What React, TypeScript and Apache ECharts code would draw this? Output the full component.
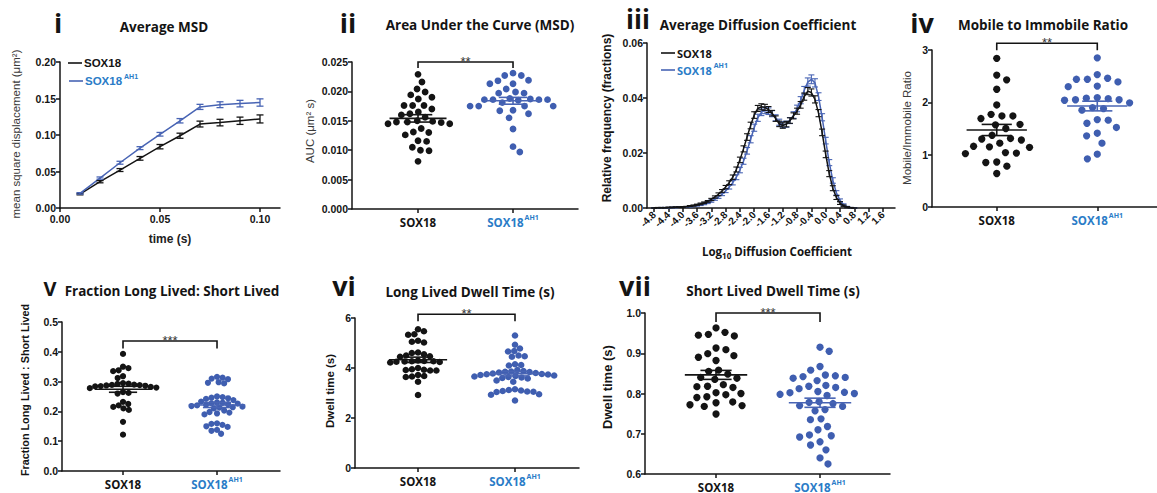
import React, { useEffect, useRef } from "react";
import * as echarts from "echarts";

const INK = "#141414";
const GREY_TXT = "#3a3a3a";
const BLUE_DOT = "#3f5eb0";
const BLUE_LINE = "#4864b4";
const BLUE_TXT = "#2a7cc7";
const TICK_FONT = "Liberation Sans, Arial, sans-serif";
const HEAD_FONT = "Open Sans, Lato, sans-serif";

// ---------- i: Average MSD ----------
const msdTime = [0.01, 0.02, 0.03, 0.04, 0.05, 0.06, 0.07, 0.08, 0.09, 0.1];
const msdSox18 = [0.019, 0.036, 0.052, 0.068, 0.084, 0.099, 0.115, 0.117, 0.1195, 0.122];
const msdSox18Sem = [0.001, 0.0015, 0.002, 0.0025, 0.003, 0.0035, 0.004, 0.0045, 0.005, 0.0055];
const msdAh1 = [0.02, 0.041, 0.062, 0.082, 0.101, 0.1195, 0.1385, 0.1415, 0.143, 0.1445];
const msdAh1Sem = [0.001, 0.0015, 0.002, 0.002, 0.0025, 0.003, 0.0035, 0.004, 0.0045, 0.005];

// ---------- ii: AUC ----------
const aucSox18 = [0.0229, 0.0216, 0.0204, 0.0199, 0.0194, 0.019, 0.0187, 0.0176, 0.0176, 0.0176, 0.017, 0.0165, 0.0162, 0.016, 0.0156, 0.015, 0.0149, 0.0148, 0.0148, 0.0147, 0.0145, 0.0145, 0.0137, 0.0131, 0.013, 0.0126, 0.0116, 0.0115, 0.0105, 0.01, 0.0099, 0.0081];
const aucAh1 = [0.0231, 0.0227, 0.0227, 0.0218, 0.0219, 0.0213, 0.0213, 0.0204, 0.0199, 0.0197, 0.0197, 0.0188, 0.0187, 0.0186, 0.0186, 0.0186, 0.0186, 0.0185, 0.0181, 0.0175, 0.0175, 0.0175, 0.0175, 0.0168, 0.0167, 0.0162, 0.0155, 0.0136, 0.0106, 0.0097];

// ---------- iii: Average diffusion coefficient ----------
const diffBins = [
  -4.8, -4.7, -4.6, -4.5, -4.4, -4.3, -4.2, -4.1, -4.0, -3.9,
  -3.8, -3.7, -3.6, -3.5, -3.4, -3.3, -3.2, -3.1, -3.0, -2.9,
  -2.8, -2.7, -2.6, -2.5, -2.4, -2.3, -2.2, -2.1, -2.0, -1.9,
  -1.8, -1.7, -1.6, -1.5, -1.4, -1.3, -1.2, -1.1, -1.0, -0.9,
  -0.8, -0.7, -0.6, -0.5, -0.4, -0.3, -0.2, -0.1, 0.0, 0.1,
  0.2, 0.3, 0.4, 0.5, 0.6, 0.7, 0.8,
];
const diffSox18 = [
  0.0, 0.0001, 0.0001, 0.0001, 0.0002, 0.0002, 0.0003, 0.0003, 0.0004, 0.0005,
  0.0007, 0.0009, 0.0012, 0.0015, 0.0019, 0.0024, 0.0031, 0.004, 0.005, 0.0062,
  0.0076, 0.0092, 0.0112, 0.014, 0.0175, 0.0215, 0.0258, 0.03, 0.0338, 0.0362,
  0.0368, 0.0366, 0.0358, 0.0345, 0.0325, 0.0306, 0.03, 0.0305, 0.0318, 0.0335,
  0.0352, 0.0375, 0.0405, 0.0425, 0.042, 0.0395, 0.0345, 0.0275, 0.0195, 0.0125,
  0.0072, 0.0038, 0.0018, 0.0008, 0.0003, 0.0001, 0.0,
];
const diffSox18Sem = [
  0.0001, 0.0001, 0.0001, 0.0001, 0.0001, 0.0001, 0.0001, 0.0001, 0.0001, 0.0001,
  0.0002, 0.0002, 0.0002, 0.0003, 0.0003, 0.0003, 0.0004, 0.0004, 0.0005, 0.0005,
  0.0006, 0.0007, 0.0008, 0.0009, 0.001, 0.0011, 0.0012, 0.0012, 0.0012, 0.0011,
  0.0011, 0.0011, 0.0011, 0.001, 0.001, 0.001, 0.001, 0.001, 0.001, 0.0011,
  0.0011, 0.0012, 0.0013, 0.0013, 0.0013, 0.0013, 0.0013, 0.0012, 0.0012, 0.0011,
  0.0009, 0.0007, 0.0005, 0.0003, 0.0002, 0.0001, 0.0,
];
const diffAh1 = [
  0.0, 0.0, 0.0001, 0.0001, 0.0001, 0.0002, 0.0002, 0.0003, 0.0003, 0.0004,
  0.0005, 0.0007, 0.0009, 0.0012, 0.0015, 0.0019, 0.0025, 0.0032, 0.004, 0.005,
  0.0062, 0.0076, 0.0092, 0.0112, 0.0138, 0.017, 0.0208, 0.025, 0.0292, 0.0328,
  0.0348, 0.0355, 0.0352, 0.0343, 0.0328, 0.0312, 0.0303, 0.0305, 0.0318, 0.0338,
  0.0362, 0.0392, 0.0428, 0.0458, 0.0468, 0.0455, 0.0405, 0.033, 0.0245, 0.0165,
  0.01, 0.0055, 0.0028, 0.0012, 0.0004, 0.0001, 0.0,
];
const diffAh1Sem = [
  0.0001, 0.0001, 0.0001, 0.0001, 0.0001, 0.0001, 0.0001, 0.0001, 0.0001, 0.0001,
  0.0002, 0.0002, 0.0002, 0.0003, 0.0003, 0.0003, 0.0004, 0.0004, 0.0005, 0.0005,
  0.0006, 0.0007, 0.0008, 0.0009, 0.001, 0.0011, 0.0012, 0.0013, 0.0013, 0.0013,
  0.0012, 0.0012, 0.0012, 0.0011, 0.0011, 0.0011, 0.0011, 0.0011, 0.0011, 0.0012,
  0.0012, 0.0013, 0.0014, 0.0015, 0.0016, 0.0015, 0.0014, 0.0013, 0.0012, 0.0011,
  0.001, 0.0008, 0.0005, 0.0003, 0.0002, 0.0001, 0.0,
];
const diffTicks = [-4.8, -4.4, -4.0, -3.6, -3.2, -2.8, -2.4, -2.0, -1.6, -1.2, -0.8, -0.4, 0.0, 0.4, 0.8, 1.2, 1.6];

// ---------- iv: Mobile / immobile ratio ----------
const ratioSox18 = [2.84, 2.52, 2.43, 2.25, 1.95, 1.77, 1.74, 1.74, 1.69, 1.58, 1.57, 1.5, 1.37, 1.31, 1.3, 1.28, 1.22, 1.16, 1.15, 1.14, 1.04, 1.03, 1.02, 0.86, 0.85, 0.78, 0.64];
const ratioAh1 = [2.85, 2.53, 2.46, 2.44, 2.44, 2.39, 2.31, 2.3, 2.09, 2.08, 2.07, 2.05, 2.05, 2.04, 1.99, 1.9, 1.88, 1.85, 1.67, 1.66, 1.6, 1.52, 1.41, 1.36, 1.22, 1.01, 0.92];

// ---------- v: Fraction long lived : short lived ----------
const fracSox18 = [0.393, 0.35, 0.345, 0.338, 0.335, 0.318, 0.312, 0.295, 0.293, 0.292, 0.29, 0.289, 0.288, 0.287, 0.286, 0.285, 0.284, 0.282, 0.28, 0.278, 0.265, 0.262, 0.26, 0.232, 0.225, 0.22, 0.215, 0.21, 0.205, 0.165, 0.122];
const fracAh1 = [0.316, 0.313, 0.31, 0.308, 0.298, 0.296, 0.294, 0.25, 0.248, 0.246, 0.244, 0.242, 0.238, 0.233, 0.23, 0.229, 0.227, 0.226, 0.224, 0.222, 0.22, 0.218, 0.216, 0.214, 0.213, 0.21, 0.203, 0.198, 0.196, 0.193, 0.19, 0.16, 0.158, 0.155, 0.15, 0.148, 0.138, 0.135, 0.125];

// ---------- vi: Long lived dwell time ----------
const longSox18 = [5.55, 5.47, 5.35, 5.33, 5.09, 5.05, 5.02, 4.62, 4.6, 4.55, 4.5, 4.47, 4.45, 4.3, 4.28, 4.27, 4.27, 4.26, 4.25, 4.24, 4.22, 4.0, 3.95, 3.93, 3.92, 3.9, 3.9, 3.72, 3.68, 3.66, 3.64, 3.45, 2.92];
const longAh1 = [5.3, 4.93, 4.78, 4.68, 4.66, 4.5, 4.47, 4.45, 4.15, 4.12, 4.1, 3.92, 3.88, 3.86, 3.85, 3.84, 3.82, 3.8, 3.78, 3.76, 3.75, 3.74, 3.72, 3.7, 3.68, 3.66, 3.64, 3.62, 3.6, 3.58, 3.5, 3.45, 3.15, 3.12, 3.1, 3.08, 3.06, 3.05, 3.04, 2.95, 2.93, 2.7];

// ---------- vii: Short lived dwell time ----------
const shortSox18 = [0.963, 0.952, 0.947, 0.945, 0.943, 0.913, 0.909, 0.899, 0.894, 0.89, 0.882, 0.858, 0.855, 0.848, 0.84, 0.838, 0.835, 0.822, 0.818, 0.817, 0.815, 0.802, 0.8, 0.797, 0.792, 0.79, 0.779, 0.777, 0.772, 0.77, 0.768, 0.749];
const shortAh1 = [0.915, 0.905, 0.867, 0.858, 0.846, 0.844, 0.842, 0.84, 0.838, 0.832, 0.82, 0.818, 0.815, 0.812, 0.805, 0.803, 0.802, 0.8, 0.798, 0.795, 0.78, 0.778, 0.775, 0.77, 0.768, 0.76, 0.757, 0.737, 0.735, 0.718, 0.71, 0.697, 0.695, 0.692, 0.68, 0.672, 0.66, 0.64, 0.625];

// ---------- helpers ----------
function meanSem(v: number[]) {
  const n = v.length;
  const m = v.reduce((a, b) => a + b, 0) / n;
  const sd = Math.sqrt(v.reduce((a, b) => a + (b - m) * (b - m), 0) / (n - 1));
  return [m, sd / Math.sqrt(n)];
}

// deterministic beeswarm: returns horizontal pixel offsets
function beeswarm(values: number[], pxPerY: number, diam: number): number[] {
  const idx = values.map((_, i) => i).sort((a, b) => values[b] - values[a]);
  const placed: { x: number; y: number }[] = [];
  const offs = new Array(values.length).fill(0);
  let side = 1;
  for (const i of idx) {
    const y = values[i] * pxPerY;
    const near = placed.filter((p) => Math.abs(p.y - y) < diam);
    const cands = [0];
    for (const p of near) {
      const w = Math.sqrt(diam * diam - (p.y - y) * (p.y - y));
      cands.push(p.x + w + 0.01, p.x - w - 0.01);
    }
    const ok = cands.filter((c) => near.every((p) => (p.x - c) * (p.x - c) + (p.y - y) * (p.y - y) >= diam * diam - 0.01));
    ok.sort((a, b) => {
      const d = Math.round(Math.abs(a) * 10) - Math.round(Math.abs(b) * 10);
      if (d !== 0) return d;
      return side > 0 ? b - a : a - b;
    });
    const x = ok[0];
    if (Math.abs(x) > 0.5) side = -side;
    placed.push({ x, y });
    offs[i] = x;
  }
  return offs;
}

const axisLineStyle = { color: INK, width: 1.5 };

function baseAxis(gi: number) {
  return {
    gridIndex: gi,
    type: "value",
    axisLine: { show: true, onZero: false, lineStyle: axisLineStyle },
    axisTick: { show: true, length: 4, lineStyle: axisLineStyle },
    splitLine: { show: false },
    axisLabel: { color: INK, fontFamily: TICK_FONT, fontWeight: "bold", fontSize: 10.5, margin: 4 },
  };
}

const catRich = {
  k: { fontFamily: HEAD_FONT, fontWeight: "bold", fontSize: 11.5, color: INK, lineHeight: 16 },
  b: { fontFamily: HEAD_FONT, fontWeight: "bold", fontSize: 11.5, color: BLUE_TXT, lineHeight: 16 },
  s: { fontFamily: HEAD_FONT, fontWeight: "bold", fontSize: 7, color: BLUE_TXT, lineHeight: 9, verticalAlign: "top", padding: [0, 0, 0, 1] },
};

function errRender(color: string, cap: number, lw: number) {
  return (params: any, api: any) => {
    const x = api.value(0), y = api.value(1), e = api.value(2);
    const t = api.coord([x, y + e]);
    const b = api.coord([x, y - e]);
    const st = { stroke: color, lineWidth: lw };
    return {
      type: "group",
      children: [
        { type: "line", shape: { x1: t[0], y1: t[1], x2: b[0], y2: b[1] }, style: st },
        { type: "line", shape: { x1: t[0] - cap, y1: t[1], x2: t[0] + cap, y2: t[1] }, style: st },
        { type: "line", shape: { x1: b[0] - cap, y1: b[1], x2: b[0] + cap, y2: b[1] }, style: st },
      ],
    };
  };
}

function meanRender(color: string) {
  return (params: any, api: any) => {
    const g = api.value(0), m = api.value(1), s = api.value(2);
    const a = api.coord([g - 0.3, m]);
    const b = api.coord([g + 0.3, m]);
    const t1 = api.coord([g - 0.15, m + s]);
    const t2 = api.coord([g + 0.15, m + s]);
    const b1 = api.coord([g - 0.15, m - s]);
    const b2 = api.coord([g + 0.15, m - s]);
    const cx = (a[0] + b[0]) / 2;
    const st = { stroke: color, lineWidth: 1.6 };
    return {
      type: "group",
      children: [
        { type: "line", shape: { x1: a[0], y1: a[1], x2: b[0], y2: b[1] }, style: st },
        { type: "line", shape: { x1: cx, y1: t1[1], x2: cx, y2: b1[1] }, style: st },
        { type: "line", shape: { x1: t1[0], y1: t1[1], x2: t2[0], y2: t2[1] }, style: st },
        { type: "line", shape: { x1: b1[0], y1: b1[1], x2: b2[0], y2: b2[1] }, style: st },
      ],
    };
  };
}

function bracketRender(stars: string, leg: number) {
  return (params: any, api: any) => {
    const p1 = api.coord([api.value(0), api.value(2)]);
    const p2 = api.coord([api.value(1), api.value(2)]);
    return {
      type: "group",
      children: [
        {
          type: "polyline",
          shape: { points: [[p1[0], p1[1] + leg], [p1[0], p1[1]], [p2[0], p2[1]], [p2[0], p2[1] + leg]] },
          style: { stroke: INK, lineWidth: 1.6, fill: null },
        },
        {
          type: "text",
          x: (p1[0] + p2[0]) / 2,
          y: p1[1] - 1,
          style: { text: stars, align: "center", verticalAlign: "middle", lineHeight: 8, fontFamily: TICK_FONT, fontSize: 13, fill: "#333" },
        },
      ],
    };
  };
}

type Box = { left: number; top: number; width: number; height: number };

function scatterPanel(
  gi: number,
  box: Box,
  xMin: number,
  xMax: number,
  yMin: number,
  yMax: number,
  yInterval: number,
  decimals: number,
  a: number[],
  b: number[],
  diam: number,
  dot: number,
  bracketY: number,
  stars: string,
  leg: number
) {
  const pxX = box.width / (xMax - xMin);
  const pxY = box.height / (yMax - yMin);
  const oa = beeswarm(a, pxY, diam);
  const ob = beeswarm(b, pxY, diam);
  const xAxis = {
    ...baseAxis(gi),
    min: xMin,
    max: xMax,
    axisTick: { show: true, length: 4, lineStyle: axisLineStyle, customValues: [1, 2] },
    axisLabel: {
      customValues: [1, 2],
      margin: 5,
      formatter: (v: number) => (Math.round(v) === 1 ? "{k|SOX18}" : "{b|SOX18}{s|AH1}"),
      rich: catRich,
    },
  };
  const yAxis = {
    ...baseAxis(gi),
    min: yMin,
    max: yMax,
    interval: yInterval,
    axisLabel: { ...baseAxis(gi).axisLabel, formatter: (v: number) => v.toFixed(decimals) },
  };
  const [ma, sa] = meanSem(a);
  const [mb, sb] = meanSem(b);
  const series = [
    {
      type: "scatter", xAxisIndex: gi, yAxisIndex: gi, symbolSize: dot, z: 2,
      itemStyle: { color: INK, opacity: 1 },
      data: a.map((v, i) => [1 + oa[i] / pxX, v]),
    },
    {
      type: "scatter", xAxisIndex: gi, yAxisIndex: gi, symbolSize: dot, z: 2,
      itemStyle: { color: BLUE_DOT, opacity: 1 },
      data: b.map((v, i) => [2 + ob[i] / pxX, v]),
    },
    { type: "custom", xAxisIndex: gi, yAxisIndex: gi, z: 3, clip: false, renderItem: meanRender(INK), data: [[1, ma, sa]] },
    { type: "custom", xAxisIndex: gi, yAxisIndex: gi, z: 3, clip: false, renderItem: meanRender(BLUE_LINE), data: [[2, mb, sb]] },
    { type: "custom", xAxisIndex: gi, yAxisIndex: gi, z: 3, clip: false, renderItem: bracketRender(stars, leg), data: [[1, 2, bracketY]] },
  ];
  return { grid: { ...box }, xAxis, yAxis, series };
}

function txt(x: number, y: number, text: string, size: number, opts: any = {}) {
  return {
    type: "text",
    x,
    y,
    rotation: opts.rotation || 0,
    style: {
      text,
      fontFamily: opts.family || HEAD_FONT,
      fontWeight: opts.weight || "bold",
      fontSize: size,
      lineHeight: opts.lineHeight,
      fill: opts.color || INK,
      align: opts.align || "center",
      verticalAlign: "middle",
      rich: opts.rich,
    },
  };
}

function legendItem(x: number, y: number, color: string, isAh1: boolean, family: string, size: number) {
  const rich = {
    k: { fontFamily: family, fontWeight: "bold", fontSize: size, fill: INK, lineHeight: 16 },
    b: { fontFamily: family, fontWeight: "bold", fontSize: size, fill: BLUE_TXT, lineHeight: 16 },
    s: { fontFamily: family, fontWeight: "bold", fontSize: 7, fill: BLUE_TXT, lineHeight: 9, verticalAlign: "top", padding: [0, 0, 0, 2] },
  };
  return [
    { type: "line", shape: { x1: x, y1: y, x2: x + 14, y2: y }, style: { stroke: color, lineWidth: 1.6 } },
    {
      type: "text",
      x: x + 16,
      y,
      style: {
        text: isAh1 ? "{b|SOX18}{s|AH1}" : "{k|SOX18}",
        rich,
        align: "left",
        verticalAlign: "middle",
      },
    },
  ];
}

function buildOption() {
  const grids: any[] = [];
  const xAxes: any[] = [];
  const yAxes: any[] = [];
  const series: any[] = [];

  // ---- panel i (grid 0) ----
  grids.push({ left: 60, top: 62, width: 220, height: 146 });
  xAxes.push({
    ...baseAxis(0), min: 0, max: 0.11, interval: 0.05,
    axisLabel: { ...baseAxis(0).axisLabel, margin: 5, showMaxLabel: false, formatter: (v: number) => v.toFixed(2) },
  });
  yAxes.push({
    ...baseAxis(0), min: 0, max: 0.2, interval: 0.05,
    axisLabel: { ...baseAxis(0).axisLabel, formatter: (v: number) => v.toFixed(2) },
  });
  series.push(
    { type: "line", xAxisIndex: 0, yAxisIndex: 0, showSymbol: false, lineStyle: { color: INK, width: 1.5 }, data: msdTime.map((t, i) => [t, msdSox18[i]]), z: 2 },
    { type: "line", xAxisIndex: 0, yAxisIndex: 0, showSymbol: false, lineStyle: { color: BLUE_LINE, width: 1.5 }, data: msdTime.map((t, i) => [t, msdAh1[i]]), z: 2 },
    { type: "custom", xAxisIndex: 0, yAxisIndex: 0, clip: false, z: 3, renderItem: errRender(INK, 3.5, 1.3), data: msdTime.map((t, i) => [t, msdSox18[i], msdSox18Sem[i]]) },
    { type: "custom", xAxisIndex: 0, yAxisIndex: 0, clip: false, z: 3, renderItem: errRender(BLUE_LINE, 3.5, 1.3), data: msdTime.map((t, i) => [t, msdAh1[i], msdAh1Sem[i]]) }
  );

  // ---- panel ii (grid 1) ----
  const p2 = scatterPanel(1, { left: 352, top: 62, width: 226, height: 147 }, 0.305, 2.684, 0, 0.025, 0.005, 3, aucSox18, aucAh1, 8.6, 6.8, 0.025, "**", 6);
  grids.push(p2.grid); xAxes.push(p2.xAxis); yAxes.push(p2.yAxis); series.push(...p2.series);

  // ---- panel iii (grid 2) ----
  grids.push({ left: 647, top: 43, width: 248, height: 165 });
  xAxes.push({
    ...baseAxis(2), min: -5.0, max: 1.94,
    axisTick: { show: true, length: 4, lineStyle: axisLineStyle, customValues: diffTicks },
    axisLabel: { ...baseAxis(2).axisLabel, fontSize: 10, rotate: 45, margin: 5, showMinLabel: true, showMaxLabel: true, customValues: diffTicks, formatter: (v: number) => v.toFixed(1) },
  });
  yAxes.push({
    ...baseAxis(2), min: 0, max: 0.06, interval: 0.02,
    axisLabel: { ...baseAxis(2).axisLabel, formatter: (v: number) => v.toFixed(2) },
  });
  series.push(
    { type: "line", xAxisIndex: 2, yAxisIndex: 2, showSymbol: false, lineStyle: { color: BLUE_LINE, width: 1.5 }, data: diffBins.map((x, i) => [x, diffAh1[i]]), z: 2 },
    { type: "custom", xAxisIndex: 2, yAxisIndex: 2, clip: false, z: 2, renderItem: errRender(BLUE_LINE, 3, 1.1), data: diffBins.map((x, i) => [x, diffAh1[i], diffAh1Sem[i]]) },
    { type: "line", xAxisIndex: 2, yAxisIndex: 2, showSymbol: false, lineStyle: { color: INK, width: 1.5 }, data: diffBins.map((x, i) => [x, diffSox18[i]]), z: 3 },
    { type: "custom", xAxisIndex: 2, yAxisIndex: 2, clip: false, z: 3, renderItem: errRender(INK, 3, 1.1), data: diffBins.map((x, i) => [x, diffSox18[i], diffSox18Sem[i]]) }
  );

  // ---- panel iv (grid 3) ----
  const p4 = scatterPanel(3, { left: 932, top: 50, width: 226, height: 157 }, 0.356, 2.594, 0, 3, 1, 0, ratioSox18, ratioAh1, 11, 7.3, 3.13, "**", 7);
  grids.push(p4.grid); xAxes.push(p4.xAxis); yAxes.push(p4.yAxis); series.push(...p4.series);

  // ---- panel v (grid 4) ----
  const p5 = scatterPanel(4, { left: 62, top: 322, width: 218, height: 149 }, 0.351, 2.67, 0, 0.5, 0.1, 1, fracSox18, fracAh1, 5.6, 6.2, 0.436, "***", 7.5);
  grids.push(p5.grid); xAxes.push(p5.xAxis); yAxes.push(p5.yAxis); series.push(...p5.series);

  // ---- panel vi (grid 5) ----
  const p6 = scatterPanel(5, { left: 355, top: 318, width: 224, height: 150 }, 0.35, 2.66, 0, 6, 2, 0, longSox18, longAh1, 6.2, 6.6, 6.15, "**", 7);
  grids.push(p6.grid); xAxes.push(p6.xAxis); yAxes.push(p6.yAxis); series.push(...p6.series);

  // ---- panel vii (grid 6) ----
  const p7 = scatterPanel(6, { left: 645, top: 313, width: 245, height: 161 }, 0.317, 2.673, 0.6, 1.0, 0.1, 1, shortSox18, shortAh1, 10, 7.3, 1.0, "***", 9);
  grids.push(p7.grid); xAxes.push(p7.xAxis); yAxes.push(p7.yAxis); series.push(...p7.series);

  const R = Math.PI / 2;
  const subRich = {
    n: { fontFamily: HEAD_FONT, fontWeight: "bold", fontSize: 11.5, fill: INK, lineHeight: 16 },
    sub: { fontFamily: HEAD_FONT, fontWeight: "bold", fontSize: 8, fill: INK, lineHeight: 9, verticalAlign: "bottom" },
  };
  const NUM = { lineHeight: 24 };

  const graphic: any[] = [
    // panel numerals
    txt(58, 22, "i", 27, NUM),
    txt(348, 22, "ii", 27, NUM),
    txt(638, 19, "iii", 26, { lineHeight: 22 }),
    txt(922, 22, "iv", 27, NUM),
    txt(50, 288, "V", 20, { lineHeight: 18 }),
    txt(344, 285, "vi", 27, NUM),
    txt(635, 285, "vii", 27, NUM),
    // titles
    txt(164, 27, "Average MSD", 13.5),
    txt(480, 25, "Area Under the Curve (MSD)", 13.5),
    txt(758, 25, "Average Diffusion Coefficient", 13.5),
    txt(1043, 25, "Mobile to Immobile Ratio", 13.5),
    txt(172, 291, "Fraction Long Lived: Short Lived", 13.5),
    txt(470, 292, "Long Lived Dwell Time (s)", 13.5),
    txt(773, 291, "Short Lived Dwell Time (s)", 13.5),
    // axis names
    txt(16, 134, "mean square displacement (\u03bcm\u00b2)", 11.5, { rotation: R, family: TICK_FONT, weight: "normal", color: GREY_TXT }),
    txt(170, 239, "time (s)", 12, { family: TICK_FONT, weight: "bold", color: "#222" }),
    txt(310, 131, "AUC (\u03bcm\u00b2 s)", 11.5, { rotation: R, family: TICK_FONT, weight: "normal", color: GREY_TXT }),
    txt(607, 118, "Relative frequency (fractions)", 12, { rotation: R, family: TICK_FONT, weight: "bold" }),
    {
      type: "text", x: 777, y: 251,
      style: { text: "{n|Log}{sub|10}{n| Diffusion Coefficient}", rich: subRich, align: "center", verticalAlign: "middle" },
    },
    txt(907, 128, "Mobile/Immobile Ratio", 11.5, { rotation: R, family: TICK_FONT, weight: "normal", color: GREY_TXT }),
    txt(25, 390, "Fraction Long Lived : Short Lived", 10.8, { rotation: R, family: TICK_FONT, weight: "bold" }),
    txt(330, 391, "Dwell time (s)", 11.5, { rotation: R, family: TICK_FONT, weight: "bold" }),
    txt(607, 387, "Dwell time (s)", 13, { rotation: R, family: TICK_FONT, weight: "bold" }),
    // legends
    ...legendItem(68, 63, INK, false, TICK_FONT, 11.5),
    ...legendItem(69, 81, BLUE_LINE, true, TICK_FONT, 11.5),
    ...legendItem(661, 53, INK, false, HEAD_FONT, 11),
    ...legendItem(661, 70, BLUE_LINE, true, HEAD_FONT, 11),
  ];

  return {
    animation: false,
    backgroundColor: "#ffffff",
    grid: grids,
    xAxis: xAxes,
    yAxis: yAxes,
    series,
    graphic,
  };
}

export default function App() {
  const ref = useRef<HTMLDivElement>(null);
  useEffect(() => {
    if (!ref.current) return;
    const chart = echarts.init(ref.current, null, { renderer: "svg" });
    chart.setOption(buildOption() as any);
    return () => chart.dispose();
  }, []);
  return <div ref={ref} style={{ position: "absolute", left: 0, top: 0, width: 1157, height: 493 }} />;
}
